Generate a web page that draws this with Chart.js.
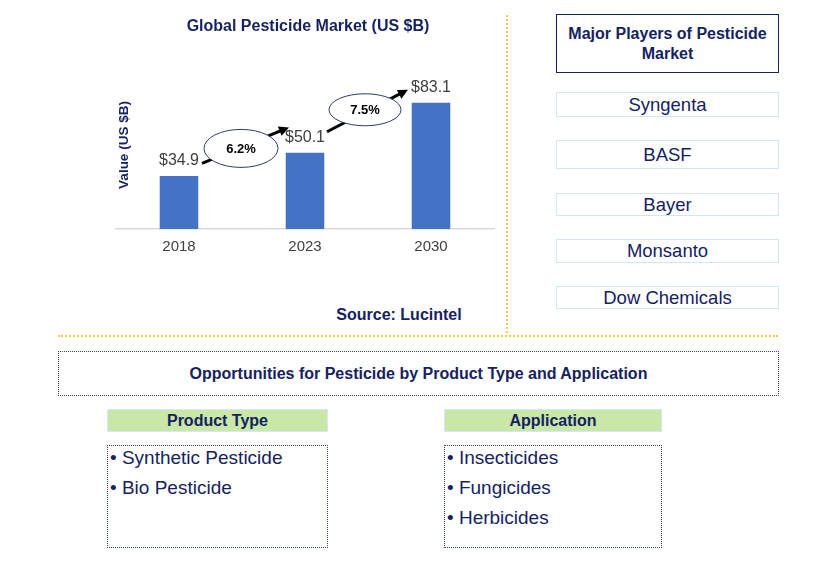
<!DOCTYPE html>
<html>
<head>
<meta charset="utf-8">
<script src="https://cdn.jsdelivr.net/npm/chart.js@4.4.1/dist/chart.umd.min.js"></script>
<style>
  html, body { margin:0; padding:0; background:#fff; }
  body { width:830px; height:568px; position:relative; overflow:hidden; font-family:"Liberation Sans", Arial, sans-serif; color:#15225e; }
  .abs { position:absolute; }
  .ctr { display:flex; align-items:center; justify-content:center; text-align:center; box-sizing:border-box; }
  #chartWrap { position:absolute; left:0; top:0; width:520px; height:260px; }
  .title { font-weight:bold; font-size:16px; white-space:nowrap; }
  .player { left:556px; width:223px; border:1.5px solid #cfe6f7; font-size:18.5px; }
  .dot { border:1.5px dotted #34427a; box-sizing:border-box; }
  .hdr { background:#c9e7a7; border:1px solid #d3e9f7; font-weight:bold; font-size:16px; }
  .item { font-size:19px; position:absolute; left:2px; white-space:nowrap; }
</style>
</head>
<body>
<div id="chartWrap"><canvas id="c"></canvas></div>

<div class="abs title ctr" style="left:150px; top:16px; width:316px; height:20px;">Global Pesticide Market (US $B)</div>
<div class="abs title ctr" style="left:73px; top:136px; width:100px; height:18px; font-size:13.5px; transform:rotate(-90deg);">Value (US $B)</div>
<div class="abs title ctr" style="left:320px; top:305px; width:158px; height:20px;">Source: Lucintel</div>

<div class="abs" style="left:506px; top:15px; height:318px; border-left:2px dotted #f6c850;"></div>
<div class="abs" style="left:58px; top:335px; width:720px; border-top:2px dotted #f6c850;"></div>

<div class="abs ctr title" style="left:556px; top:14px; width:223px; height:59px; border:1.5px solid #15225e; line-height:20px;">Major Players of Pesticide<br>Market</div>
<div id="players"></div>

<div class="abs ctr title dot" style="left:58px; top:351px; width:721px; height:45px;">Opportunities for Pesticide by Product Type and Application</div>
<div class="abs ctr hdr" style="left:107px; top:409px; width:221px; height:23px;">Product Type</div>
<div class="abs ctr hdr" style="left:444px; top:409px; width:218px; height:23px;">Application</div>
<div class="abs dot" id="list1" style="left:107px; top:445px; width:221px; height:103px;"></div>
<div class="abs dot" id="list2" style="left:444px; top:445px; width:218px; height:103px;"></div>

<script>
const years = ["2018", "2023", "2030"];
const marketValues = [34.9, 50.1, 83.1];
const valueLabels = ["$34.9", "$50.1", "$83.1"];
const cagrLabels = ["6.2%", "7.5%"];
const players = ["Syngenta", "BASF", "Bayer", "Monsanto", "Dow Chemicals"];
const productTypes = ["Synthetic Pesticide", "Bio Pesticide"];
const applications = ["Insecticides", "Fungicides", "Herbicides"];

// Side panel boxes
const playerBoxes = [[92, 25], [140, 29], [193, 23], [239, 24], [286, 23]];
const pc = document.getElementById('players');
players.forEach((p, i) => {
  const d = document.createElement('div');
  d.className = 'abs ctr player';
  d.style.top = playerBoxes[i][0] + 'px';
  d.style.height = playerBoxes[i][1] + 'px';
  d.textContent = p;
  pc.appendChild(d);
});
function fillList(id, items) {
  const el = document.getElementById(id);
  items.forEach((t, i) => {
    const d = document.createElement('div');
    d.className = 'item';
    d.style.top = (1 + i * 30) + 'px';
    d.textContent = '\u2022 ' + t;
    el.appendChild(d);
  });
}
fillList('list1', productTypes);
fillList('list2', applications);

const annot = {
  id: 'annot',
  afterDatasetsDraw(chart) {
    const ctx = chart.ctx;
    const bars = chart.getDatasetMeta(0).data;
    ctx.save();
    // value labels
    ctx.font = '16px "Liberation Sans", Arial, sans-serif';
    ctx.fillStyle = '#404040';
    ctx.textAlign = 'center';
    ctx.textBaseline = 'middle';
    const lbl = bars.map((b, i) => ({x: b.x, y: b.y - 15}));
    bars.forEach((b, i) => ctx.fillText(valueLabels[i], lbl[i].x, lbl[i].y));
    // arrows + ellipses
    const arrowOff = [[[-39, 15], [48, -21]], [[-38, 22], [43, -20]]];
    const ellOff = [[-1, -1, 37, 19], [-3, -3, 36, 16]];
    for (let i = 0; i < cagrLabels.length; i++) {
      const cx = (lbl[i].x + lbl[i + 1].x) / 2 + ellOff[i][0];
      const cy = (lbl[i].y + lbl[i + 1].y) / 2 + ellOff[i][1];
      const sx = cx + arrowOff[i][0][0], sy = cy + arrowOff[i][0][1];
      const tx = cx + arrowOff[i][1][0], ty = cy + arrowOff[i][1][1];
      const ang = Math.atan2(ty - sy, tx - sx);
      const hl = 10;
      ctx.strokeStyle = '#000';
      ctx.fillStyle = '#000';
      ctx.lineWidth = 3;
      ctx.beginPath();
      ctx.moveTo(sx, sy);
      ctx.lineTo(tx - hl * 0.8 * Math.cos(ang), ty - hl * 0.8 * Math.sin(ang));
      ctx.stroke();
      ctx.beginPath();
      ctx.moveTo(tx, ty);
      ctx.lineTo(tx - hl * Math.cos(ang) + 5 * Math.sin(ang), ty - hl * Math.sin(ang) - 5 * Math.cos(ang));
      ctx.lineTo(tx - hl * Math.cos(ang) - 5 * Math.sin(ang), ty - hl * Math.sin(ang) + 5 * Math.cos(ang));
      ctx.closePath();
      ctx.fill();
      ctx.beginPath();
      ctx.ellipse(cx, cy, ellOff[i][2], ellOff[i][3], 0, 0, Math.PI * 2);
      ctx.fillStyle = '#fff';
      ctx.fill();
      ctx.lineWidth = 1;
      ctx.strokeStyle = '#2f3d6b';
      ctx.stroke();
      ctx.fillStyle = '#000';
      ctx.font = 'bold 13px "Liberation Sans", Arial, sans-serif';
      ctx.fillText(cagrLabels[i], cx, cy + 1);
    }
    ctx.restore();
  }
};

new Chart(document.getElementById('c'), {
  type: 'bar',
  data: {
    labels: years,
    datasets: [{
      data: marketValues,
      backgroundColor: '#4472c4',
      borderWidth: 0,
      barPercentage: 0.306,
      categoryPercentage: 1.0
    }]
  },
  options: {
    responsive: true,
    maintainAspectRatio: false,
    animation: false,
    layout: { padding: { left: 116, right: 26, top: 77, bottom: 0 } },
    plugins: { legend: { display: false }, tooltip: { enabled: false } },
    scales: {
      x: {
        grid: { display: false, drawTicks: false },
        border: { display: true, color: '#d9d9d9', width: 1.5 },
        ticks: { color: '#404040', font: { size: 15, family: '"Liberation Sans", Arial, sans-serif' }, padding: 9 },
        afterFit: s => { s.height = 31; }
      },
      y: { display: false, min: 0, max: 100 }
    }
  },
  plugins: [annot]
});
</script>
</body>
</html>
